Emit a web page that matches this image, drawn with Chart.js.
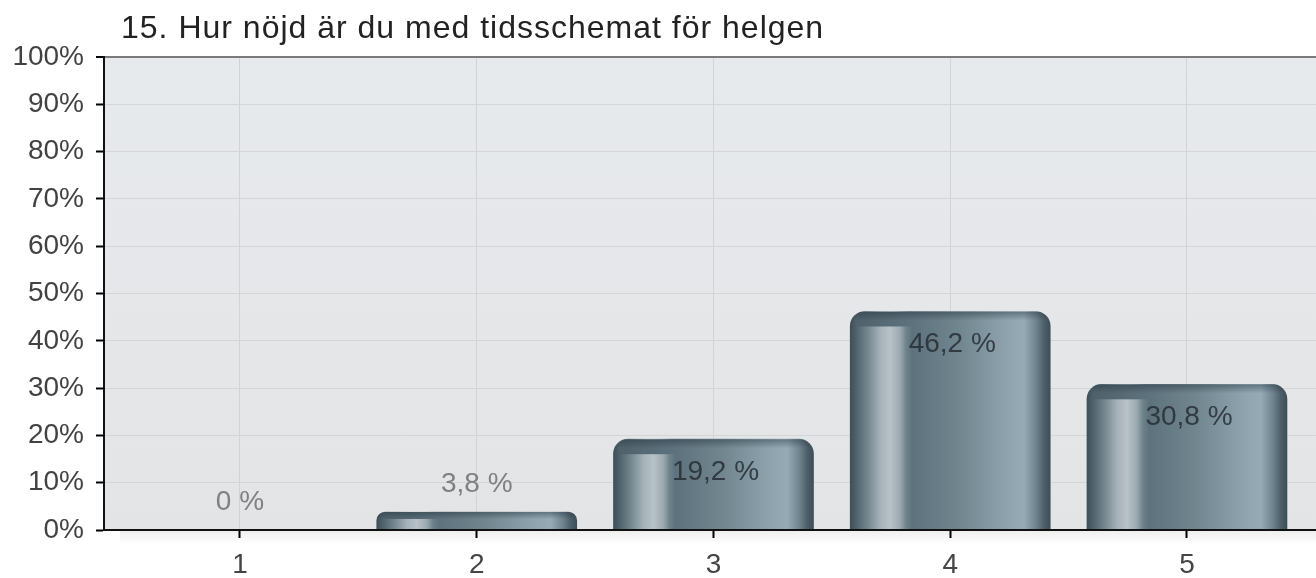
<!DOCTYPE html>
<html><head><meta charset="utf-8">
<script src="https://cdn.jsdelivr.net/npm/chart.js@4/dist/chart.umd.min.js"></script>
<style>html,body{margin:0;padding:0;background:#fff;overflow:hidden}canvas{display:block}</style>
</head><body>
<canvas id="c" width="1316" height="578"></canvas>
<script>
const titleText = '15. Hur nöjd är du med tidsschemat för helgen';
const categories = [1, 2, 3, 4, 5];
const xTickLabels = ['1', '2', '3', '4', '5'];
const values = [0, 3.8, 19.2, 46.2, 30.8];
const valueLabels = ['0 %', '3,8 %', '19,2 %', '46,2 %', '30,8 %'];
const yTickValues = [0, 10, 20, 30, 40, 50, 60, 70, 80, 90, 100];

const FONT = 'Liberation Sans, Arial, sans-serif';
const BAR_W = 200;

function barFill(ctx) {
  const chart = ctx.chart;
  if (!chart.chartArea || ctx.type !== 'data' || !ctx.raw) return '#6a7f8a';
  const cx = chart.scales.x.getPixelForValue(ctx.raw.x);
  const g = chart.ctx.createLinearGradient(cx - BAR_W / 2, 0, cx + BAR_W / 2, 0);
  const stops = [
    [0.00, '#3d4f59'], [0.03, '#4f626c'], [0.09, '#76888f'], [0.15, '#a5b2b8'],
    [0.20, '#b8c2c7'], [0.25, '#9aa9b0'], [0.28, '#6e828c'], [0.31, '#5e727d'],
    [0.55, '#71868f'], [0.80, '#90a5b0'], [0.87, '#95aab5'], [0.93, '#6f838e'],
    [0.97, '#4c5e68'], [1.00, '#3e4e57']
  ];
  stops.forEach(s => g.addColorStop(s[0], s[1]));
  return g;
}

const bgPlugin = {
  id: 'bg',
  beforeDraw(chart) {
    const c = chart.ctx, a = chart.chartArea;
    c.save();
    c.fillStyle = '#ffffff';
    c.fillRect(0, 0, chart.width, chart.height);
    const g = c.createLinearGradient(0, a.top, 0, a.bottom);
    g.addColorStop(0, '#e7eaed');
    g.addColorStop(1, '#e3e4e6');
    c.fillStyle = g;
    c.fillRect(a.left, a.top, a.right - a.left, a.bottom - a.top);
    const s = c.createLinearGradient(0, a.bottom, 0, a.bottom + 14);
    s.addColorStop(0, 'rgba(0,0,0,0.07)');
    s.addColorStop(1, 'rgba(0,0,0,0)');
    c.fillStyle = s;
    c.fillRect(a.left + 16, a.bottom, a.right - a.left - 16, 14);
    c.restore();
  },
  afterDraw(chart) {
    const c = chart.ctx;
    c.save();
    c.font = '32px ' + FONT;
    c.fillStyle = '#222222';
    c.textBaseline = 'alphabetic';
    c.textAlign = 'left';
    if ('letterSpacing' in c) c.letterSpacing = '1px';
    c.fillText(titleText, 121, 38);
    c.restore();
  }
};

const barDecor = {
  id: 'barDecor',
  afterDatasetsDraw(chart) {
    const meta = chart.getDatasetMeta(0);
    const c = chart.ctx;
    meta.data.forEach((el, i) => {
      const p = el.getProps(['x', 'y', 'base', 'width'], true);
      const h = p.base - p.y;
      const left = p.x - p.width / 2;
      if (h > 1) {
        c.save();
        const r = Math.min(15, h / 2, p.width / 2);
        c.beginPath();
        c.roundRect(left, p.y, p.width, h, [r, r, 0, 0]);
        c.clip();
        const capH = Math.min(15, h * 0.4);
        let g = c.createLinearGradient(left + p.width * 0.03, 0, left + p.width * 0.31, 0);
        g.addColorStop(0, '#4f626c');
        g.addColorStop(1, '#5e727d');
        c.fillStyle = g;
        c.fillRect(left + p.width * 0.03, p.y, p.width * 0.28, capH);
        const sh = Math.min(9, h * 0.4);
        g = c.createLinearGradient(0, p.y, 0, p.y + sh);
        g.addColorStop(0, 'rgba(35,50,60,0.45)');
        g.addColorStop(1, 'rgba(35,50,60,0)');
        c.fillStyle = g;
        c.fillRect(left, p.y, p.width, sh);
        c.restore();
      }
      c.save();
      c.font = '28px ' + FONT;
      c.textAlign = 'center';
      c.textBaseline = 'middle';
      if (h > 40) {
        c.fillStyle = 'rgba(38,46,52,0.85)';
        c.fillText(valueLabels[i], p.x + 2, p.y + 33);
      } else {
        c.fillStyle = '#808080';
        c.fillText(valueLabels[i], p.x, p.y - 28);
      }
      c.restore();
    });
  }
};

new Chart(document.getElementById('c'), {
  type: 'bar',
  data: {
    datasets: [{
      data: categories.map((cat, i) => ({ x: cat, y: values[i] })),
      backgroundColor: barFill,
      borderWidth: 0,
      borderRadius: { topLeft: 15, topRight: 15, bottomLeft: 0, bottomRight: 0 },
      borderSkipped: 'bottom',
      barThickness: BAR_W
    }]
  },
  options: {
    responsive: false,
    animation: false,
    events: [],
    layout: { padding: { top: 57, right: 0, left: 0, bottom: 0 } },
    plugins: { legend: { display: false }, title: { display: false }, tooltip: { enabled: false } },
    scales: {
      x: {
        type: 'linear',
        min: 0.4256,
        max: 5.545,
        offset: false,
        afterBuildTicks: s => { s.ticks = categories.map(v => ({ value: v })); },
        afterFit: s => { s.height = 48; },
        ticks: {
          callback: v => xTickLabels[categories.indexOf(v)],
          font: { family: FONT, size: 28 },
          color: '#454545',
          padding: 10,
          autoSkip: false,
          maxRotation: 0
        },
        grid: { offset: false, color: '#d2d3d5', lineWidth: 1, tickColor: '#000', tickLength: 8, tickWidth: 2 },
        border: { color: '#111', width: 2, z: 1 }
      },
      y: {
        min: 0,
        max: 100,
        afterBuildTicks: s => { s.ticks = yTickValues.map(v => ({ value: v })); },
        afterFit: s => { s.width = 104; },
        ticks: {
          callback: v => v + '%',
          font: { family: FONT, size: 28 },
          color: '#424242',
          padding: 12
        },
        grid: {
          color: c => (c.tick && c.tick.value === 100 ? '#7a7a7a' : '#d4d5d7'),
          lineWidth: c => (c.tick && c.tick.value === 100 ? 2 : 1),
          tickColor: '#000',
          tickLength: 8,
          tickWidth: 2
        },
        border: { color: '#111', width: 2 }
      }
    }
  },
  plugins: [bgPlugin, barDecor]
});
</script>
</body></html>
